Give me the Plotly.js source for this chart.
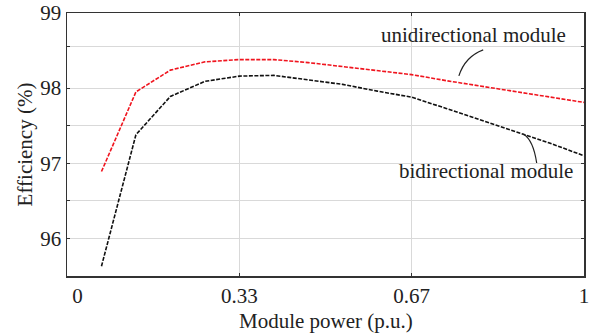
<!DOCTYPE html>
<html>
<head>
<meta charset="utf-8">
<script src="https://cdn.plot.ly/plotly-3.0.1.min.js"></script>
<style>html,body{margin:0;padding:0;background:#fff;}#chart{width:592px;height:333px;}</style>
</head>
<body>
<div id="chart"></div>
<script>
// Module power (p.u.)
const modulePower = [0.0667, 0.1333, 0.2, 0.2667, 0.3333, 0.4, 0.4667, 0.5333, 0.6, 0.6667, 0.7333, 0.8, 0.8667, 0.9333, 1.0];
// Efficiency (%)
const unidirectional = [96.89, 97.95, 98.24, 98.35, 98.38, 98.38, 98.34, 98.29, 98.24, 98.18, 98.10, 98.03, 97.95, 97.88, 97.81];
const bidirectional  = [95.63, 97.38, 97.89, 98.09, 98.16, 98.17, 98.11, 98.05, 97.96, 97.88, 97.73, 97.58, 97.43, 97.27, 97.10];
const xTickVals = [0, 1/3, 2/3, 1];
const xTickText = ['\u2007\u20070', '0.33', '0.67', '1'];
const yTickVals = [96, 97, 98, 99];
const yTickText = ['96', '97', '98', '99'];
const yGridMinor = [96.5, 97.5, 98.56];

const font = 'Liberation Serif';

const traces = [
  {x: modulePower, y: unidirectional, type: 'scatter', mode: 'lines', name: 'unidirectional module',
   line: {color: '#f0141e', width: 1.6, dash: '4px,1.5px'}},
  {x: modulePower, y: bidirectional, type: 'scatter', mode: 'lines', name: 'bidirectional module',
   line: {color: '#111111', width: 1.6, dash: '4px,1.5px'}}
];

const layout = {
  width: 592, height: 333,
  margin: {l: 67, r: 8, t: 13, b: 57},
  paper_bgcolor: '#fff', plot_bgcolor: '#fff',
  showlegend: false,
  font: {family: font, size: 21, color: '#222'},
  xaxis: {
    range: [0, 1], tickmode: 'array', tickvals: xTickVals, ticktext: xTickText,
    showline: true, linecolor: '#333', linewidth: 1.5, mirror: 'allticks',
    ticks: 'inside', ticklen: 3, tickcolor: '#333',
    showgrid: true, gridcolor: '#d9d9d9', gridwidth: 1, zeroline: false,
    tickfont: {family: font, size: 21, color: '#222'},
    title: {text: ''}
  },
  yaxis: {
    range: [95.5, 99], tickmode: 'array', tickvals: yTickVals, ticktext: yTickText,
    showline: true, linecolor: '#333', linewidth: 1.5, mirror: 'allticks',
    ticks: 'inside', ticklen: 3, tickcolor: '#333',
    showgrid: true, gridcolor: '#d9d9d9', gridwidth: 1, zeroline: false,
    tickfont: {family: font, size: 21, color: '#222'},
    minor: {tickmode: 'array', tickvals: yGridMinor, showgrid: true, gridcolor: '#d9d9d9', ticks: 'inside', ticklen: 3, tickcolor: '#333'},
    title: {text: 'Efficiency (%)', font: {family: font, size: 21, color: '#222'}, standoff: 2}
  },
  annotations: [
    {x: 0.787, y: 98.71, xref: 'x', yref: 'y', text: 'unidirectional module', showarrow: false,
     font: {family: font, size: 21, color: '#222'}},
    {x: 0.811, y: 96.90, xref: 'x', yref: 'y', text: 'bidirectional module', showarrow: false,
     font: {family: font, size: 21, color: '#222'}},
    {x: 0.5, y: -0.172, xref: 'paper', yref: 'paper', yanchor: 'middle', text: 'Module power (p.u.)', showarrow: false,
     font: {family: font, size: 21, color: '#222'}}
  ],
  shapes: [
    {type: 'path', xref: 'x', yref: 'y', path: 'M 0.805,98.51 Q 0.770,98.42 0.758,98.164', line: {color: '#222', width: 1.2}},
    {type: 'path', xref: 'x', yref: 'y', path: 'M 0.8826,97.391 Q 0.902,97.31 0.9085,97.004', line: {color: '#222', width: 1.2}}
  ]
};

Plotly.newPlot('chart', traces, layout, {displayModeBar: false, staticPlot: true});
</script>
</body>
</html>
